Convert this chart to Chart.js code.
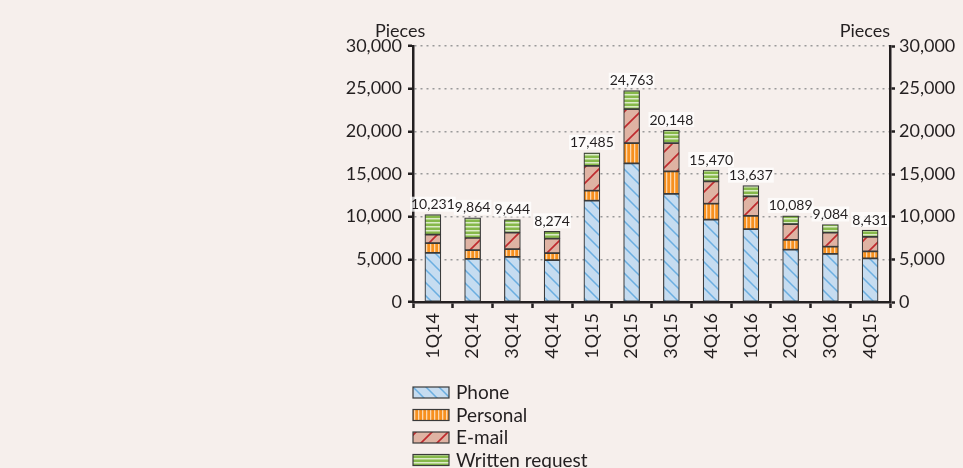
<!DOCTYPE html>
<html>
<head>
<meta charset="utf-8">
<script src="https://cdn.jsdelivr.net/npm/chart.js@4.4.1/dist/chart.umd.min.js"></script>
<style>
  html, body { margin: 0; padding: 0; background: #f6efec; }
  #wrap { width: 963px; height: 468px; position: relative; }
</style>
</head>
<body>
<div id="wrap"><canvas id="c" width="963" height="468"></canvas></div>
<script>
const categories = ['1Q14','2Q14','3Q14','4Q14','1Q15','2Q15','3Q15','4Q16','1Q16','2Q16','3Q16','4Q15'];
const phone    = [5750, 5040, 5300, 4920, 11870, 16240, 12660, 9650, 8550, 6130, 5630, 5110];
const personal = [1150, 1050,  900,  820,  1170,  2390,  2640, 1870, 1530, 1140,  850,  820];
const email    = [1000, 1410, 1920, 1680,  2900,  3970,  3330, 2610, 2300, 1870, 1640, 1690];
const written  = [2331, 2364, 1524,  854,  1545,  2163,  1518, 1340, 1257,  949,  964,  811];
const yTicks = [0, 5000, 10000, 15000, 20000, 25000, 30000];
const seriesNames = ['Phone', 'Personal', 'E-mail', 'Written request'];
const axisTitle = 'Pieces';

const FONT = 'Lato, "Open Sans", sans-serif';
const TXT = '#231f20';

function makePattern(kind) {
  const c = document.createElement('canvas');
  let ctx;
  if (kind === 'phone') {
    const s = 13; c.width = s; c.height = s; ctx = c.getContext('2d');
    ctx.fillStyle = '#c6dcf0'; ctx.fillRect(0, 0, s, s);
    ctx.strokeStyle = '#6aaee0'; ctx.lineWidth = 1.5;
    ctx.beginPath();
    ctx.moveTo(0, 0); ctx.lineTo(s, s);
    ctx.moveTo(-2, s - 2); ctx.lineTo(2, s + 2);
    ctx.moveTo(s - 2, -2); ctx.lineTo(s + 2, 2);
    ctx.stroke();
  } else if (kind === 'personal') {
    c.width = 3.5; c.width = 4; c.height = 4; ctx = c.getContext('2d');
    ctx.fillStyle = '#f7901e'; ctx.fillRect(0, 0, 4, 4);
    ctx.fillStyle = '#fcd7ae'; ctx.fillRect(2, 0, 1.3, 4);
  } else if (kind === 'email') {
    const s = 16; c.width = s; c.height = s; ctx = c.getContext('2d');
    ctx.fillStyle = '#dfb3a3'; ctx.fillRect(0, 0, s, s);
    ctx.strokeStyle = '#bf2a2e'; ctx.lineWidth = 1.6;
    ctx.beginPath();
    ctx.moveTo(0, s); ctx.lineTo(s, 0);
    ctx.moveTo(-2, 2); ctx.lineTo(2, -2);
    ctx.moveTo(s - 2, s + 2); ctx.lineTo(s + 2, s - 2);
    ctx.stroke();
  } else {
    c.width = 4; c.height = 4; ctx = c.getContext('2d');
    ctx.fillStyle = '#86b84a'; ctx.fillRect(0, 0, 4, 4);
    ctx.fillStyle = '#dcebc8'; ctx.fillRect(0, 2, 4, 1.5);
  }
  return document.getElementById('c').getContext('2d').createPattern(c, 'repeat');
}

const patterns = [makePattern('phone'), makePattern('personal'), makePattern('email'), makePattern('written')];
const seriesData = [phone, personal, email, written];

const datasets = seriesData.map((d, i) => ({
  label: seriesNames[i],
  data: d,
  backgroundColor: patterns[i],
  borderColor: '#3a3a3a',
  borderWidth: 1.2,
  borderSkipped: false,
  barThickness: 16,
  stack: 's'
}));

const extrasPlugin = {
  id: 'extras',
  afterDatasetsDraw(chart) {
    const ctx = chart.ctx;
    const xs = chart.scales.x, ys = chart.scales.y;
    ctx.save();
    ctx.font = '14px ' + FONT;
    ctx.textAlign = 'center';
    ctx.textBaseline = 'bottom';
    categories.forEach((cat, i) => {
      let total = 0;
      seriesData.forEach(s => total += s[i]);
      const x = xs.getPixelForValue(i);
      const y = ys.getPixelForValue(total) - 3;
      const txt = total.toLocaleString('en-US');
      const w = ctx.measureText(txt).width;
      ctx.fillStyle = 'rgba(255,255,255,0.75)';
      ctx.fillRect(x - w / 2 - 1, y - 15, w + 2, 15);
      ctx.fillStyle = TXT;
      ctx.fillText(txt, x, y);
    });
    ctx.restore();
  },
  afterDraw(chart) {
    const ctx = chart.ctx;
    const area = chart.chartArea;
    ctx.save();
    ctx.font = '18px ' + FONT;
    ctx.fillStyle = TXT;
    ctx.textBaseline = 'middle';
    ctx.textAlign = 'left';
    ctx.fillText(axisTitle, area.left - 38, 31);
    ctx.textAlign = 'right';
    ctx.fillText(axisTitle, area.right, 31);
    // legend
    ctx.font = '19px ' + FONT;
    const lx = area.left, ly0 = 392, step = 22.5;
    seriesNames.forEach((n, i) => {
      const cy = ly0 + i * step;
      ctx.fillStyle = patterns[i];
      ctx.fillRect(lx, cy - 5, 36, 11);
      ctx.strokeStyle = '#3a3a3a';
      ctx.lineWidth = 1.2;
      ctx.strokeRect(lx, cy - 5, 36, 11);
      ctx.fillStyle = TXT;
      ctx.textAlign = 'left';
      ctx.fillText(n, lx + 43, cy + 1);
    });
    ctx.restore();
  }
};

new Chart(document.getElementById('c'), {
  type: 'bar',
  data: { labels: categories, datasets },
  options: {
    responsive: false,
    animation: false,
    layout: { padding: { left: 0, right: 0, top: 46, bottom: 91 } },
    plugins: { legend: { display: false }, tooltip: { enabled: false } },
    scales: {
      x: {
        stacked: true,
        afterFit(s) { s.height = 75; },
        grid: { display: true, offset: true, drawOnChartArea: false, drawTicks: true, tickLength: 6, tickColor: '#231f20', tickWidth: 2.5 },
        border: { display: true, color: '#231f20', width: 2.5 },
        ticks: { color: TXT, font: { family: FONT, size: 18 }, minRotation: 90, maxRotation: 90, padding: 5, autoSkip: false }
      },
      y: {
        stacked: true,
        position: 'left',
        min: 0, max: 30000,
        afterFit(s) { s.width = 413; },
        afterBuildTicks(s) { s.ticks = yTicks.map(v => ({ value: v })); },
        grid: { color: '#9a9a9a', lineWidth: 1.5, drawTicks: true, tickLength: 5, tickColor: '#231f20', tickWidth: 2.5, tickBorderDash: [] },
        border: { display: true, color: '#231f20', width: 2.5, dash: [2, 4] },
        ticks: { color: TXT, font: { family: FONT, size: 18 }, padding: 6, callback: v => v.toLocaleString('en-US') }
      },
      y2: {
        position: 'right',
        min: 0, max: 30000,
        afterFit(s) { s.width = 73; },
        afterBuildTicks(s) { s.ticks = yTicks.map(v => ({ value: v })); },
        grid: { drawOnChartArea: false, drawTicks: true, tickLength: 5, tickColor: '#231f20', tickWidth: 2.5 },
        border: { display: true, color: '#231f20', width: 2.5 },
        ticks: { color: TXT, font: { family: FONT, size: 18 }, padding: 4, callback: v => v.toLocaleString('en-US') }
      }
    }
  },
  plugins: [extrasPlugin]
});
</script>
</body>
</html>
